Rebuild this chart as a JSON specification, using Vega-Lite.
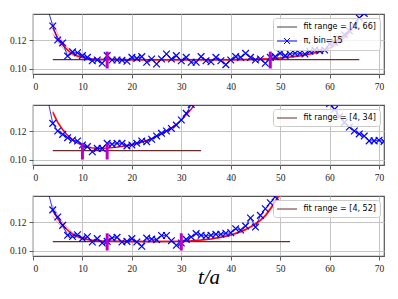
{
  "$schema": "https://vega.github.io/schema/vega-lite/v6.json",
  "padding": {"top": 13, "left": 8, "right": 0, "bottom": 0},
  "spacing": 12,
  "config": {
    "view": {"stroke": "#555555", "strokeWidth": 1.2},
    "axis": {"grid": true, "gridColor": "#c4c4c4", "gridWidth": 1, "domain": false, "tickColor": "#333333", "tickSize": 4, "tickWidth": 0.8, "labelFont": "Liberation Serif", "labelFontSize": 9.5, "labelColor": "#222222", "labelPadding": 3, "titleFont": "Liberation Serif"},
    "legend": {"orient": "top-right", "offset": 4, "padding": 3.5, "cornerRadius": 3, "fillColor": "rgba(255,255,255,0.8)", "strokeColor": "#cccccc", "labelFont": "DejaVu Sans", "labelFontSize": 8, "labelColor": "#000000", "labelOffset": 16, "symbolSize": 100, "symbolType": "M-1,0L3,0", "symbolStrokeWidth": 1, "rowPadding": 4, "columnPadding": 0, "labelLimit": 200, "title": null}
  },
  "resolve": {"scale": {"color": "independent"}, "legend": {"color": "independent"}},
  "datasets": {
    "d1": [
      {"t":1,"v":0.17},{"t":2,"v":0.155},{"t":3,"v":0.1415},{"t":4,"v":0.1297},{"t":5,"v":0.1200},{"t":6,"v":0.1180},{"t":7,"v":0.1089},{"t":8,"v":0.1118},{"t":9,"v":0.1112},{"t":10,"v":0.1092},
      {"t":11,"v":0.1080},{"t":12,"v":0.1057},{"t":13,"v":0.1062},{"t":14,"v":0.1039},{"t":15,"v":0.1092},{"t":16,"v":0.1062},{"t":17,"v":0.1062},{"t":18,"v":0.1060},{"t":19,"v":0.1053},{"t":20,"v":0.1080},
      {"t":21,"v":0.1073},{"t":22,"v":0.1085},{"t":23,"v":0.1046},{"t":24,"v":0.1069},{"t":25,"v":0.1034},{"t":26,"v":0.1069},{"t":27,"v":0.1103},{"t":28,"v":0.1069},{"t":29,"v":0.1092},{"t":30,"v":0.1057},
      {"t":31,"v":0.1080},{"t":32,"v":0.1046},{"t":33,"v":0.1046},{"t":34,"v":0.1085},{"t":35,"v":0.1057},{"t":36,"v":0.1050},{"t":37,"v":0.1080},{"t":38,"v":0.1057},{"t":39,"v":0.1030},{"t":40,"v":0.1062},
      {"t":41,"v":0.1085},{"t":42,"v":0.1080},{"t":43,"v":0.1108},{"t":44,"v":0.1080},{"t":45,"v":0.1062},{"t":46,"v":0.1069},{"t":47,"v":0.1039},{"t":48,"v":0.1080},{"t":49,"v":0.1085},{"t":50,"v":0.1108},
      {"t":51,"v":0.1092},{"t":52,"v":0.1103},{"t":53,"v":0.1108},{"t":54,"v":0.1108},{"t":55,"v":0.1103},{"t":56,"v":0.1122},{"t":57,"v":0.1131},{"t":58,"v":0.1126},{"t":59,"v":0.1131},{"t":60,"v":0.1172},
      {"t":61,"v":0.1184},{"t":62,"v":0.1207},{"t":63,"v":0.1237},{"t":64,"v":0.1264},{"t":65,"v":0.1299},{"t":66,"v":0.1352},{"t":67,"v":0.1384},{"t":68,"v":0.145},{"t":69,"v":0.152},{"t":70,"v":0.160},{"t":71,"v":0.170}
    ],
    "f1": [
      {"t":4,"v":0.1285,"lo":0.1245,"hi":0.1325},{"t":5,"v":0.1215,"lo":0.1187,"hi":0.1243},{"t":6,"v":0.1165,"lo":0.1145,"hi":0.1185},{"t":7,"v":0.1130,"lo":0.1115,"hi":0.1145},
      {"t":8,"v":0.1105,"lo":0.1095,"hi":0.1115},{"t":9,"v":0.1090,"lo":0.1083,"hi":0.1097},{"t":10,"v":0.1080,"lo":0.1075,"hi":0.1085},{"t":11,"v":0.1073,"lo":0.1069,"hi":0.1077},
      {"t":12,"v":0.1069,"lo":0.1066,"hi":0.1072},{"t":14,"v":0.1066,"lo":0.1063,"hi":0.1069},{"t":16,"v":0.1065,"lo":0.1062,"hi":0.1068},{"t":20,"v":0.1064,"lo":0.1061,"hi":0.1067},
      {"t":30,"v":0.1064,"lo":0.1061,"hi":0.1067},{"t":40,"v":0.1064,"lo":0.1061,"hi":0.1067},{"t":44,"v":0.1066,"lo":0.1063,"hi":0.1069},{"t":46,"v":0.1068,"lo":0.1065,"hi":0.1071},
      {"t":48,"v":0.1071,"lo":0.1068,"hi":0.1074},{"t":50,"v":0.1076,"lo":0.1072,"hi":0.1080},{"t":52,"v":0.1083,"lo":0.1079,"hi":0.1087},{"t":54,"v":0.1092,"lo":0.1087,"hi":0.1097},
      {"t":56,"v":0.1104,"lo":0.1098,"hi":0.1110},{"t":58,"v":0.1120,"lo":0.1113,"hi":0.1127},{"t":60,"v":0.1145,"lo":0.1136,"hi":0.1154},{"t":61,"v":0.1165,"lo":0.1155,"hi":0.1175},
      {"t":62,"v":0.1190,"lo":0.1179,"hi":0.1201},{"t":63,"v":0.1220,"lo":0.1207,"hi":0.1233},{"t":64,"v":0.1255,"lo":0.1240,"hi":0.1270},{"t":65,"v":0.1300,"lo":0.1283,"hi":0.1317},
      {"t":66,"v":0.1355,"lo":0.1335,"hi":0.1375}
    ],
    "p1": [{"a":4,"b":66,"v":0.1064}],
    "e1": [{"t":15,"lo":0.1003,"hi":0.1120},{"t":48,"lo":0.1003,"hi":0.1120}],
    "d2": [
      {"t":1,"v":0.17},{"t":2,"v":0.155},{"t":3,"v":0.1415},{"t":4,"v":0.1253},{"t":5,"v":0.1200},{"t":6,"v":0.1177},{"t":7,"v":0.1154},{"t":8,"v":0.1138},{"t":9,"v":0.1131},{"t":10,"v":0.1103},
      {"t":11,"v":0.1092},{"t":12,"v":0.1057},{"t":13,"v":0.1080},{"t":14,"v":0.1080},{"t":15,"v":0.1115},{"t":16,"v":0.1108},{"t":17,"v":0.1115},{"t":18,"v":0.1115},{"t":19,"v":0.1097},{"t":20,"v":0.1103},
      {"t":21,"v":0.1115},{"t":22,"v":0.1131},{"t":23,"v":0.1126},{"t":24,"v":0.1143},{"t":25,"v":0.1166},{"t":26,"v":0.1184},{"t":27,"v":0.1200},{"t":28,"v":0.1218},{"t":29,"v":0.1241},{"t":30,"v":0.1276},
      {"t":31,"v":0.1322},{"t":32,"v":0.1384},{"t":33,"v":0.146},{"t":34,"v":0.155},{"t":36,"v":0.175},{"t":40,"v":0.20},{"t":45,"v":0.21},{"t":50,"v":0.20},{"t":55,"v":0.17},{"t":58,"v":0.150},
      {"t":59,"v":0.1435},{"t":60,"v":0.1390},{"t":61,"v":0.1350},{"t":62,"v":0.1300},{"t":63,"v":0.1260},{"t":64,"v":0.1228},{"t":65,"v":0.1200},{"t":66,"v":0.1180},{"t":67,"v":0.1165},{"t":68,"v":0.1132},
      {"t":69,"v":0.1132},{"t":70,"v":0.1136},{"t":71,"v":0.1128}
    ],
    "f2": [
      {"t":4,"v":0.1330,"lo":0.1318,"hi":0.1342},{"t":5,"v":0.1260,"lo":0.1251,"hi":0.1269},{"t":6,"v":0.1210,"lo":0.1203,"hi":0.1217},{"t":7,"v":0.1170,"lo":0.1165,"hi":0.1175},
      {"t":8,"v":0.1140,"lo":0.1136,"hi":0.1144},{"t":9,"v":0.1117,"lo":0.1114,"hi":0.1120},{"t":10,"v":0.1100,"lo":0.1097,"hi":0.1103},{"t":11,"v":0.1090,"lo":0.1087,"hi":0.1093},
      {"t":12,"v":0.1083,"lo":0.1081,"hi":0.1085},{"t":13,"v":0.1080,"lo":0.1078,"hi":0.1082},{"t":14,"v":0.1080,"lo":0.1078,"hi":0.1082},{"t":15,"v":0.1082,"lo":0.1080,"hi":0.1084},
      {"t":16,"v":0.1085,"lo":0.1083,"hi":0.1087},{"t":17,"v":0.1089,"lo":0.1087,"hi":0.1091},{"t":18,"v":0.1094,"lo":0.1092,"hi":0.1096},{"t":19,"v":0.1100,"lo":0.1098,"hi":0.1102},
      {"t":20,"v":0.1107,"lo":0.1105,"hi":0.1109},{"t":21,"v":0.1115,"lo":0.1113,"hi":0.1117},{"t":22,"v":0.1124,"lo":0.1122,"hi":0.1126},{"t":23,"v":0.1135,"lo":0.1133,"hi":0.1137},
      {"t":24,"v":0.1148,"lo":0.1146,"hi":0.1150},{"t":25,"v":0.1163,"lo":0.1161,"hi":0.1165},{"t":26,"v":0.1180,"lo":0.1178,"hi":0.1182},{"t":27,"v":0.1199,"lo":0.1197,"hi":0.1201},
      {"t":28,"v":0.1221,"lo":0.1219,"hi":0.1223},{"t":29,"v":0.1247,"lo":0.1244,"hi":0.1250},{"t":30,"v":0.1277,"lo":0.1274,"hi":0.1280},{"t":31,"v":0.1312,"lo":0.1308,"hi":0.1316},
      {"t":32,"v":0.1352,"lo":0.1348,"hi":0.1356},{"t":33,"v":0.1398,"lo":0.1393,"hi":0.1403},{"t":34,"v":0.1450,"lo":0.1444,"hi":0.1456}
    ],
    "p2": [{"a":4,"b":34,"v":0.1064}],
    "e2": [{"t":10,"lo":0.1003,"hi":0.1118},{"t":15,"lo":0.1003,"hi":0.1112}],
    "d3": [
      {"t":1,"v":0.17},{"t":2,"v":0.155},{"t":3,"v":0.1415},{"t":4,"v":0.1284},{"t":5,"v":0.1235},{"t":6,"v":0.1177},{"t":7,"v":0.1108},{"t":8,"v":0.1100},{"t":9,"v":0.1112},{"t":10,"v":0.1087},
      {"t":11,"v":0.1098},{"t":12,"v":0.1062},{"t":13,"v":0.1085},{"t":14,"v":0.1055},{"t":15,"v":0.1066},{"t":16,"v":0.1089},{"t":17,"v":0.1094},{"t":18,"v":0.1062},{"t":19,"v":0.1066},{"t":20,"v":0.1085},
      {"t":21,"v":0.1062},{"t":22,"v":0.1032},{"t":23,"v":0.1089},{"t":24,"v":0.1082},{"t":25,"v":0.1078},{"t":26,"v":0.1107},{"t":27,"v":0.1107},{"t":28,"v":0.1071},{"t":29,"v":0.1039},{"t":30,"v":0.1055},
      {"t":31,"v":0.1080},{"t":32,"v":0.1097},{"t":33,"v":0.1120},{"t":34,"v":0.1108},{"t":35,"v":0.1103},{"t":36,"v":0.1108},{"t":37,"v":0.1115},{"t":38,"v":0.1115},{"t":39,"v":0.1122},{"t":40,"v":0.1126},
      {"t":41,"v":0.1154},{"t":42,"v":0.1145},{"t":43,"v":0.1172},{"t":44,"v":0.1228},{"t":45,"v":0.1165},{"t":46,"v":0.1246},{"t":47,"v":0.1292},{"t":48,"v":0.1333},{"t":49,"v":0.1375},{"t":50,"v":0.145},
      {"t":51,"v":0.153},{"t":52,"v":0.162},{"t":53,"v":0.172},{"t":54,"v":0.183},{"t":55,"v":0.195}
    ],
    "f3": [
      {"t":4,"v":0.1278,"lo":0.1240,"hi":0.1316},{"t":5,"v":0.1222,"lo":0.1195,"hi":0.1249},{"t":6,"v":0.1178,"lo":0.1158,"hi":0.1198},{"t":7,"v":0.1143,"lo":0.1129,"hi":0.1157},
      {"t":8,"v":0.1117,"lo":0.1107,"hi":0.1127},{"t":9,"v":0.1099,"lo":0.1092,"hi":0.1106},{"t":10,"v":0.1087,"lo":0.1082,"hi":0.1092},{"t":11,"v":0.1079,"lo":0.1075,"hi":0.1083},
      {"t":12,"v":0.1074,"lo":0.1071,"hi":0.1077},{"t":14,"v":0.1069,"lo":0.1066,"hi":0.1072},{"t":16,"v":0.1067,"lo":0.1064,"hi":0.1070},{"t":20,"v":0.1066,"lo":0.1063,"hi":0.1069},
      {"t":25,"v":0.1066,"lo":0.1063,"hi":0.1069},{"t":30,"v":0.1067,"lo":0.1064,"hi":0.1070},{"t":32,"v":0.1070,"lo":0.1067,"hi":0.1073},{"t":34,"v":0.1075,"lo":0.1072,"hi":0.1078},
      {"t":36,"v":0.1083,"lo":0.1080,"hi":0.1086},{"t":38,"v":0.1095,"lo":0.1091,"hi":0.1099},{"t":40,"v":0.1110,"lo":0.1106,"hi":0.1114},{"t":42,"v":0.1133,"lo":0.1128,"hi":0.1138},
      {"t":43,"v":0.1148,"lo":0.1143,"hi":0.1153},{"t":44,"v":0.1166,"lo":0.1160,"hi":0.1172},{"t":45,"v":0.1187,"lo":0.1180,"hi":0.1194},{"t":46,"v":0.1212,"lo":0.1204,"hi":0.1220},
      {"t":47,"v":0.1244,"lo":0.1235,"hi":0.1253},{"t":48,"v":0.1290,"lo":0.1280,"hi":0.1300},{"t":49,"v":0.1340,"lo":0.1328,"hi":0.1352},{"t":50,"v":0.1398,"lo":0.1385,"hi":0.1411},
      {"t":51,"v":0.1460,"lo":0.1446,"hi":0.1474},{"t":52,"v":0.1530,"lo":0.1514,"hi":0.1546}
    ],
    "p3": [{"a":4,"b":52,"v":0.1064}],
    "e3": [{"t":15,"lo":0.1003,"hi":0.1122},{"t":30,"lo":0.1003,"hi":0.1122}]
  },
  "vconcat": [
    {
      "width": 351, "height": 60,
      "layer": [
        {"data": {"name": "f1"}, "transform": [{"fold": ["lo", "hi"], "as": ["key", "val"]}],
         "mark": {"type": "line", "color": "#ff0000", "strokeWidth": 0.7, "opacity": 0.55, "clip": true},
         "encoding": {
           "x": {"field": "t", "type": "quantitative", "scale": {"domain": [0, 71], "nice": false, "zero": false}, "axis": {"values": [0,10,20,30,40,50,60,70], "title": null}},
           "y": {"field": "val", "type": "quantitative", "scale": {"domain": [0.0965, 0.138], "nice": false, "zero": false}, "axis": {"values": [0.10, 0.12], "format": ".2f", "title": null}},
           "detail": {"field": "key"}}},
        {"mark": {"type": "rule", "color": "#d2d2d2", "strokeWidth": 1}, "encoding": {"y": {"datum": 0.0982}}},
        {"data": {"name": "p1"}, "mark": {"type": "rule", "color": "#6b2c2c", "strokeWidth": 1.3, "clip": true},
         "encoding": {"x": {"field": "a", "type": "quantitative"}, "x2": {"field": "b"}, "y": {"field": "v", "type": "quantitative"}}},
        {"data": {"name": "f1"}, "mark": {"type": "line", "color": "#ff0000", "strokeWidth": 1.5, "clip": true},
         "encoding": {"x": {"field": "t", "type": "quantitative"}, "y": {"field": "v", "type": "quantitative"}}},
        {"data": {"name": "d1"}, "mark": {"type": "line", "strokeWidth": 0.8, "clip": true},
         "encoding": {"x": {"field": "t", "type": "quantitative"}, "y": {"field": "v", "type": "quantitative"},
           "color": {"datum": "π, bin=15", "type": "nominal",
             "scale": {"domain": ["fit range = [4, 66]", "π, bin=15"], "range": ["#444444", "#0000ff"]},
             "legend": {"encode": {"symbols": {"update": {
               "shape": {"signal": "datum.value === 'π, bin=15' ? 'M-1,0L3,0M0.4,-0.6L1.6,0.6M0.4,0.6L1.6,-0.6' : 'M-1,0L3,0'"},
               "fill": {"value": "transparent"}, "strokeWidth": {"value": 1}, "opacity": {"value": 1}}}}}}}},
        {"data": {"name": "d1"}, "mark": {"type": "point", "shape": "M-1,-1L1,1M-1,1L1,-1", "filled": false, "size": 45, "strokeWidth": 1.2, "opacity": 1, "clip": true},
         "encoding": {"x": {"field": "t", "type": "quantitative"}, "y": {"field": "v", "type": "quantitative"}, "color": {"datum": "π, bin=15", "type": "nominal"}}},
        {"data": {"name": "e1"}, "mark": {"type": "rule", "color": "#c000c0", "strokeWidth": 3, "clip": true},
         "encoding": {"x": {"field": "t", "type": "quantitative"}, "y": {"field": "lo", "type": "quantitative"}, "y2": {"field": "hi"}}}
      ]
    },
    {
      "width": 351, "height": 60,
      "layer": [
        {"data": {"name": "f2"}, "transform": [{"fold": ["lo", "hi"], "as": ["key", "val"]}],
         "mark": {"type": "line", "color": "#ff0000", "strokeWidth": 0.7, "opacity": 0.55, "clip": true},
         "encoding": {
           "x": {"field": "t", "type": "quantitative", "scale": {"domain": [0, 71], "nice": false, "zero": false}, "axis": {"values": [0,10,20,30,40,50,60,70], "title": null}},
           "y": {"field": "val", "type": "quantitative", "scale": {"domain": [0.0965, 0.138], "nice": false, "zero": false}, "axis": {"values": [0.10, 0.12], "format": ".2f", "title": null}},
           "detail": {"field": "key"}}},
        {"mark": {"type": "rule", "color": "#d2d2d2", "strokeWidth": 1}, "encoding": {"y": {"datum": 0.0982}}},
        {"data": {"name": "p2"}, "mark": {"type": "rule", "strokeWidth": 1.3, "clip": true},
         "encoding": {"x": {"field": "a", "type": "quantitative"}, "x2": {"field": "b"}, "y": {"field": "v", "type": "quantitative"},
           "color": {"datum": "fit range = [4, 34]", "type": "nominal",
             "scale": {"domain": ["fit range = [4, 34]"], "range": ["#6b2c2c"]},
             "legend": {"encode": {"symbols": {"update": {"stroke": {"signal": "'#444444'"}, "fill": {"value": "transparent"}, "strokeWidth": {"value": 1}, "opacity": {"value": 1}}}}}}}},
        {"data": {"name": "f2"}, "mark": {"type": "line", "color": "#ff0000", "strokeWidth": 1.3, "clip": true},
         "encoding": {"x": {"field": "t", "type": "quantitative"}, "y": {"field": "v", "type": "quantitative"}}},
        {"data": {"name": "d2"}, "mark": {"type": "line", "color": "#0000ff", "strokeWidth": 0.8, "clip": true},
         "encoding": {"x": {"field": "t", "type": "quantitative"}, "y": {"field": "v", "type": "quantitative"}}},
        {"data": {"name": "d2"}, "mark": {"type": "point", "shape": "M-1,-1L1,1M-1,1L1,-1", "color": "#0000ff", "filled": false, "size": 45, "strokeWidth": 1.2, "opacity": 1, "clip": true},
         "encoding": {"x": {"field": "t", "type": "quantitative"}, "y": {"field": "v", "type": "quantitative"}}},
        {"data": {"name": "e2"}, "mark": {"type": "rule", "color": "#c000c0", "strokeWidth": 3, "clip": true},
         "encoding": {"x": {"field": "t", "type": "quantitative"}, "y": {"field": "lo", "type": "quantitative"}, "y2": {"field": "hi"}}}
      ]
    },
    {
      "width": 351, "height": 60,
      "layer": [
        {"data": {"name": "f3"}, "transform": [{"fold": ["lo", "hi"], "as": ["key", "val"]}],
         "mark": {"type": "line", "color": "#ff0000", "strokeWidth": 0.7, "opacity": 0.55, "clip": true},
         "encoding": {
           "x": {"field": "t", "type": "quantitative", "scale": {"domain": [0, 71], "nice": false, "zero": false}, "axis": {"values": [0,10,20,30,40,50,60,70], "title": "t/a", "titleFontSize": 21, "titleFontStyle": "italic", "titleFontWeight": "normal", "titleColor": "#000000", "titlePadding": -6}},
           "y": {"field": "val", "type": "quantitative", "scale": {"domain": [0.0965, 0.138], "nice": false, "zero": false}, "axis": {"values": [0.10, 0.12], "format": ".2f", "title": null}},
           "detail": {"field": "key"}}},
        {"mark": {"type": "rule", "color": "#d2d2d2", "strokeWidth": 1}, "encoding": {"y": {"datum": 0.0982}}},
        {"data": {"name": "p3"}, "mark": {"type": "rule", "strokeWidth": 1.3, "clip": true},
         "encoding": {"x": {"field": "a", "type": "quantitative"}, "x2": {"field": "b"}, "y": {"field": "v", "type": "quantitative"},
           "color": {"datum": "fit range = [4, 52]", "type": "nominal",
             "scale": {"domain": ["fit range = [4, 52]"], "range": ["#6b2c2c"]},
             "legend": {"encode": {"symbols": {"update": {"stroke": {"signal": "'#444444'"}, "fill": {"value": "transparent"}, "strokeWidth": {"value": 1}, "opacity": {"value": 1}}}}}}}},
        {"data": {"name": "f3"}, "mark": {"type": "line", "color": "#ff0000", "strokeWidth": 1.5, "clip": true},
         "encoding": {"x": {"field": "t", "type": "quantitative"}, "y": {"field": "v", "type": "quantitative"}}},
        {"data": {"name": "d3"}, "mark": {"type": "line", "color": "#0000ff", "strokeWidth": 0.8, "clip": true},
         "encoding": {"x": {"field": "t", "type": "quantitative"}, "y": {"field": "v", "type": "quantitative"}}},
        {"data": {"name": "d3"}, "mark": {"type": "point", "shape": "M-1,-1L1,1M-1,1L1,-1", "color": "#0000ff", "filled": false, "size": 45, "strokeWidth": 1.2, "opacity": 1, "clip": true},
         "encoding": {"x": {"field": "t", "type": "quantitative"}, "y": {"field": "v", "type": "quantitative"}}},
        {"data": {"name": "e3"}, "mark": {"type": "rule", "color": "#c000c0", "strokeWidth": 3, "clip": true},
         "encoding": {"x": {"field": "t", "type": "quantitative"}, "y": {"field": "lo", "type": "quantitative"}, "y2": {"field": "hi"}}}
      ]
    }
  ]
}
